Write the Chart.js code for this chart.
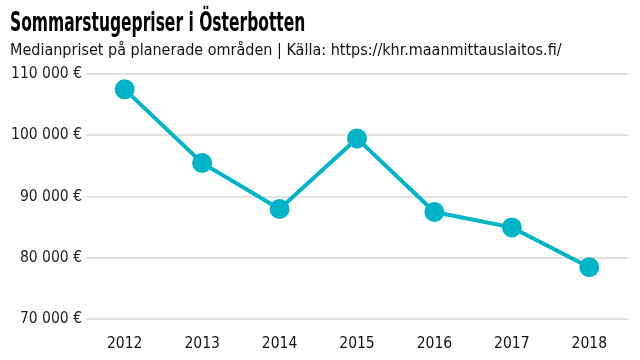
<!DOCTYPE html>
<html>
<head>
<meta charset="utf-8">
<script src="https://cdn.jsdelivr.net/npm/chart.js@4/dist/chart.umd.min.js"></script>
<style>
html,body{margin:0;padding:0;background:#fff;}
#wrap{width:640px;height:360px;position:relative;overflow:hidden;}
#c{position:absolute;left:0;top:0;}
.t{position:absolute;left:10px;white-space:nowrap;transform-origin:0 0;font-family:'DejaVu Sans Condensed','DejaVu Sans',sans-serif;}
#title{top:9px;font-size:26px;line-height:26px;font-weight:bold;color:#000;transform:scaleX(0.663);}
#sub{top:42px;font-size:16px;line-height:16px;color:#111;}
</style>
</head>
<body>
<div id="wrap">
<canvas id="c" width="640" height="360"></canvas>
<div class="t" id="title">Sommarstugepriser i Österbotten</div>
<div class="t" id="sub">Medianpriset på planerade områden | Källa: https://khr.maanmittauslaitos.fi/</div>
</div>
<script>
const years = ["2012","2013","2014","2015","2016","2017","2018"];
const medianPrice = [107500, 95500, 88000, 99500, 87500, 85000, 78500];
const yTicks = [70000, 80000, 90000, 100000, 110000];

const FONT = "'DejaVu Sans Condensed','DejaVu Sans',sans-serif";
const fmt = v => String(v).replace(/\B(?=(\d{3})+(?!\d))/g, " ") + " €";

new Chart(document.getElementById('c'), {
  type: 'line',
  data: {
    labels: years,
    datasets: [{
      data: medianPrice,
      borderColor: '#00b4c8',
      backgroundColor: '#00b4c8',
      borderWidth: 4,
      pointRadius: 8,
      pointHoverRadius: 8,
      tension: 0
    }]
  },
  options: {
    responsive: false,
    animation: false,
    layout: { padding: { left: 10, right: 10, top: 74, bottom: 0 } },
    plugins: {
      legend: { display: false },
      tooltip: { enabled: false },
      title: { display: false },
      subtitle: { display: false }
    },
    scales: {
      x: {
        offset: true,
        grid: { display: false },
        border: { display: false },
        ticks: { color: '#111', font: { family: FONT, size: 15.5 }, padding: 7 }
      },
      y: {
        min: 70000,
        max: 110000,
        afterBuildTicks: ax => { ax.ticks = yTicks.map(v => ({ value: v })); },
        afterFit: ax => { ax.width = 76; },
        grid: { color: '#e2e2e2', lineWidth: 2, drawTicks: true, tickLength: 4, tickColor: '#fff' },
        border: { display: false },
        ticks: { color: '#222', font: { family: FONT, size: 15.5 }, padding: 0, callback: v => fmt(v) }
      }
    }
  }
});
</script>
</body>
</html>
